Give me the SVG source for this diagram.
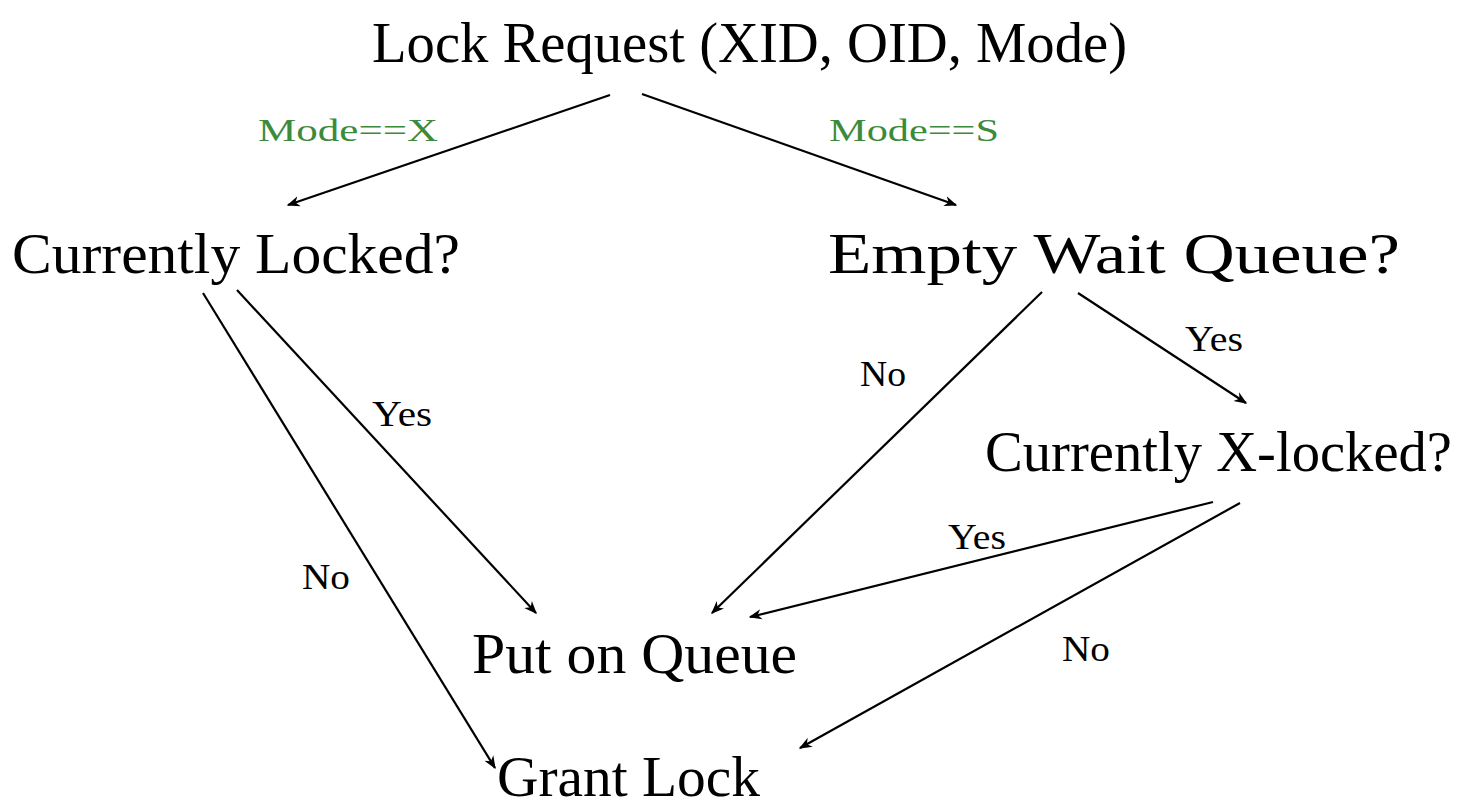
<svg xmlns="http://www.w3.org/2000/svg" width="1467" height="811" viewBox="0 0 1467 811">
  <style>
    .node { font-family: "Liberation Serif", "Times New Roman", serif; font-size: 56px; fill: #000; }
    .lbl { font-family: "Liberation Serif", "Times New Roman", serif; font-size: 36px; fill: #000; }
    .mode { font-family: "Liberation Serif", "Times New Roman", serif; font-size: 32px; fill: #3c8a3c; }
    .edge { stroke: #000; stroke-width: 2.2; fill: none; marker-end: url(#arrow); }
  </style>
  <defs>
    <marker id="arrow" viewBox="0 0 10 10" refX="9" refY="5" markerWidth="13" markerHeight="13" markerUnits="userSpaceOnUse" orient="auto">
      <path d="M0,1 L10,5 L0,9 L3,5 Z" fill="#000"/>
    </marker>
  </defs>
  <rect width="1467" height="811" fill="#fff"/>

  <g id="connectors">
    <line class="edge" x1="610" y1="95" x2="288" y2="205"/>
    <line class="edge" x1="642" y1="94" x2="956" y2="205"/>
    <line class="edge" x1="237" y1="290" x2="536" y2="613"/>
    <line class="edge" x1="203" y1="293" x2="495" y2="768"/>
    <line class="edge" x1="1042" y1="292" x2="712" y2="613"/>
    <line class="edge" x1="1078" y1="293" x2="1246" y2="403"/>
    <line class="edge" x1="1213" y1="502" x2="750" y2="617"/>
    <line class="edge" x1="1240" y1="503" x2="800" y2="748"/>
  </g>

  <g id="edge-labels">
    <text class="mode" x="258" y="141" textLength="180" lengthAdjust="spacingAndGlyphs">Mode==X</text>
    <text class="mode" x="829" y="141" textLength="170" lengthAdjust="spacingAndGlyphs">Mode==S</text>
    <text class="lbl" x="372" y="426" textLength="60" lengthAdjust="spacingAndGlyphs">Yes</text>
    <text class="lbl" x="860" y="386" textLength="46" lengthAdjust="spacingAndGlyphs">No</text>
    <text class="lbl" x="1185" y="351" textLength="58" lengthAdjust="spacingAndGlyphs">Yes</text>
    <text class="lbl" x="948" y="549" textLength="58" lengthAdjust="spacingAndGlyphs">Yes</text>
    <text class="lbl" x="302" y="589" textLength="48" lengthAdjust="spacingAndGlyphs">No</text>
    <text class="lbl" x="1062" y="661" textLength="48" lengthAdjust="spacingAndGlyphs">No</text>
  </g>

  <g id="lock-request">
    <text class="node" x="372" y="62" textLength="755" lengthAdjust="spacingAndGlyphs">Lock Request (XID, OID, Mode)</text>
  </g>
  <g id="currently-locked">
    <text class="node" x="12" y="273" textLength="448" lengthAdjust="spacingAndGlyphs">Currently Locked?</text>
  </g>
  <g id="empty-wait-queue">
    <text class="node" x="828" y="273" textLength="572" lengthAdjust="spacingAndGlyphs">Empty Wait Queue?</text>
  </g>
  <g id="currently-x-locked">
    <text class="node" x="985" y="471" textLength="467" lengthAdjust="spacingAndGlyphs">Currently X-locked?</text>
  </g>
  <g id="put-on-queue">
    <text class="node" x="472" y="673" textLength="325" lengthAdjust="spacingAndGlyphs">Put on Queue</text>
  </g>
  <g id="grant-lock">
    <text class="node" x="497" y="796" textLength="263" lengthAdjust="spacingAndGlyphs">Grant Lock</text>
  </g>
</svg>
